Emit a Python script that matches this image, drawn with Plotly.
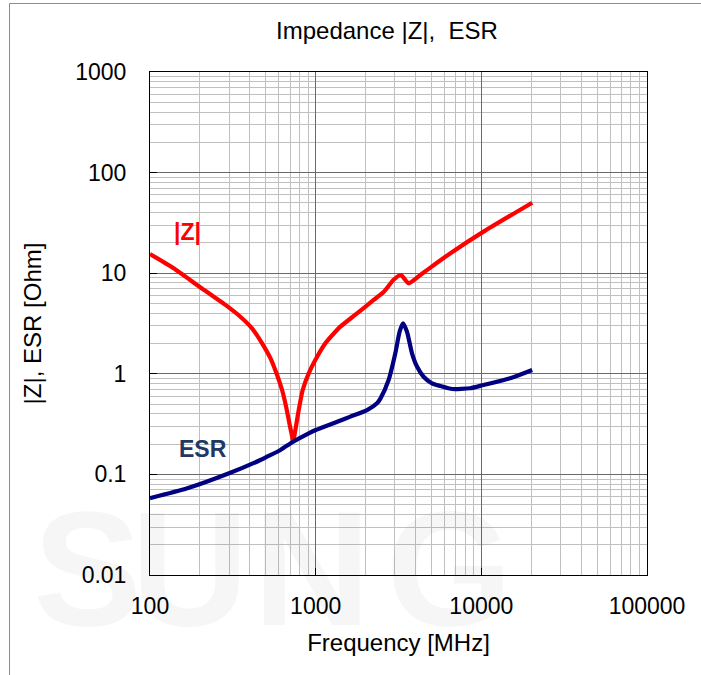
import numpy as np
import plotly.graph_objects as go

# ---------------- data ----------------
z_freq = [100, 139, 200, 300, 343, 413, 475, 533, 585, 627, 663, 694, 721, 731,
          754, 790, 835, 908, 995, 1144, 1315, 1409, 1777, 2238, 2570, 2954,
          3273, 3640, 4280, 5398, 6510, 10310, 20280]
z_vals = [15.5, 11.2, 7.29, 4.55, 3.82, 2.83, 2.01, 1.43, 0.973, 0.690, 0.471, 0.322, 0.237, 0.211,
          0.276, 0.436, 0.690, 1.01, 1.37, 2.01, 2.62, 2.94, 3.99, 5.42, 6.5, 8.6,
          9.6, 7.94, 9.6, 12.7, 15.8, 25.9, 50.2]

esr_freq = [100, 168, 300, 464, 509, 613, 731, 908, 1000, 1350, 1620, 2042, 2346, 2463,
            2756, 3025, 3211, 3365, 3558, 3815, 4089, 4481, 5036, 5651, 6676, 8570,
            10310, 14930, 20280]
esr_vals = [0.058, 0.0727, 0.1025, 0.139, 0.150, 0.175, 0.211, 0.256, 0.276, 0.334, 0.375, 0.436, 0.509, 0.570,
            0.867, 1.60, 2.62, 3.18, 2.62, 1.60, 1.18, 0.935, 0.804, 0.757, 0.706, 0.718,
            0.774, 0.902, 1.09]

x_tickvals = [100, 1000, 10000, 100000]
x_ticktext = ["100", "1000", "10000", "100000"]
y_tickvals = [0.01, 0.1, 1, 10, 100, 1000]
y_ticktext = ["0.01", "0.1", "1", "10", "100", "1000"]

title_text = "Impedance |Z|,  ESR"
x_title = "Frequency [MHz]"
y_title = "|Z|, ESR [Ohm]"

# ---------------- layout geometry ----------------
W, H = 701, 675
ML, MR, MT, MB = 150, 54, 72, 100
PW, PH = W - ML - MR, H - MT - MB


def pxx(px):
    return (px - ML) / PW


def pxy(py):
    return (H - MB - py) / PH


FONT = "Liberation Sans, Arial, sans-serif"

fig = go.Figure()
fig.add_trace(go.Scatter(x=z_freq, y=z_vals, mode="lines", name="|Z|",
                         line=dict(color="#ff0000", width=4.2, shape="spline", smoothing=0.6),
                         showlegend=False))
fig.add_trace(go.Scatter(x=esr_freq, y=esr_vals, mode="lines", name="ESR",
                         line=dict(color="#000080", width=4.2, shape="spline", smoothing=0.6),
                         showlegend=False))

axis_common = dict(
    type="log",
    showline=True, linecolor="#000000", linewidth=1, mirror=True,
    showgrid=True, gridcolor="#6a6a6a", gridwidth=1,
    ticks="inside", ticklen=7, tickcolor="#000000", tickwidth=1,
    tickfont=dict(family=FONT, size=23, color="#000000"),
    minor=dict(showgrid=True, gridcolor="#c0c0c0", gridwidth=1, dtick="D1", ticks=""),
    zeroline=False,
)

fig.update_xaxes(**axis_common, range=[2, 5], tickvals=x_tickvals, ticktext=x_ticktext,
                 ticklabelstandoff=10,
                 title=dict(text=x_title, font=dict(family=FONT, size=24, color="#000000"), standoff=16))
fig.update_yaxes(**axis_common, range=[-2, 3], tickvals=y_tickvals, ticktext=y_ticktext,
                 ticklabelstandoff=18,
                 title=dict(text=y_title, font=dict(family=FONT, size=24, color="#000000"), standoff=26))

annotations = []
# watermark letters (very faint)
wm = [("S", 87), ("U", 190), ("N", 312), ("G", 449)]
for ch, px in wm:
    annotations.append(dict(text="<b>" + ch + "</b>", xref="paper", yref="paper",
                            x=pxx(px), y=pxy(568), xanchor="center", yanchor="middle",
                            showarrow=False,
                            font=dict(family="Liberation Sans Narrow, Liberation Sans, Arial", size=163,
                                      color="rgba(0,0,0,0.035)")))
# series labels
annotations.append(dict(text="<b>|Z|</b>", xref="x", yref="y", x=np.log10(168), y=np.log10(25.9),
                        showarrow=False, font=dict(family=FONT, size=23, color="#ff0000")))
annotations.append(dict(text="<b>ESR</b>", xref="x", yref="y", x=np.log10(209), y=np.log10(0.179),
                        showarrow=False, font=dict(family=FONT, size=23, color="#1f3864")))

shapes = [
    dict(type="line", xref="paper", yref="paper", x0=pxx(9.5), x1=pxx(W + 5), y0=pxy(3.5), y1=pxy(3.5),
         line=dict(color="#8c8c8c", width=1)),
    dict(type="line", xref="paper", yref="paper", x0=pxx(9.5), x1=pxx(9.5), y0=pxy(3.5), y1=pxy(H + 5),
         line=dict(color="#8c8c8c", width=1)),
]

fig.update_layout(
    width=W, height=H,
    margin=dict(l=ML, r=MR, t=MT, b=MB, autoexpand=False),
    paper_bgcolor="#ffffff", plot_bgcolor="#ffffff",
    font=dict(family=FONT, size=23, color="#000000"),
    title=dict(text=title_text, x=pxx(387), xref="paper", xanchor="center",
               y=1 - 31 / H, yref="container", yanchor="middle",
               font=dict(family=FONT, size=24, color="#000000")),
    annotations=annotations,
    shapes=shapes,
    showlegend=False,
)

fig.write_html("out.html", config={"displayModeBar": False},
               post_script="document.body.style.margin='0px';")
